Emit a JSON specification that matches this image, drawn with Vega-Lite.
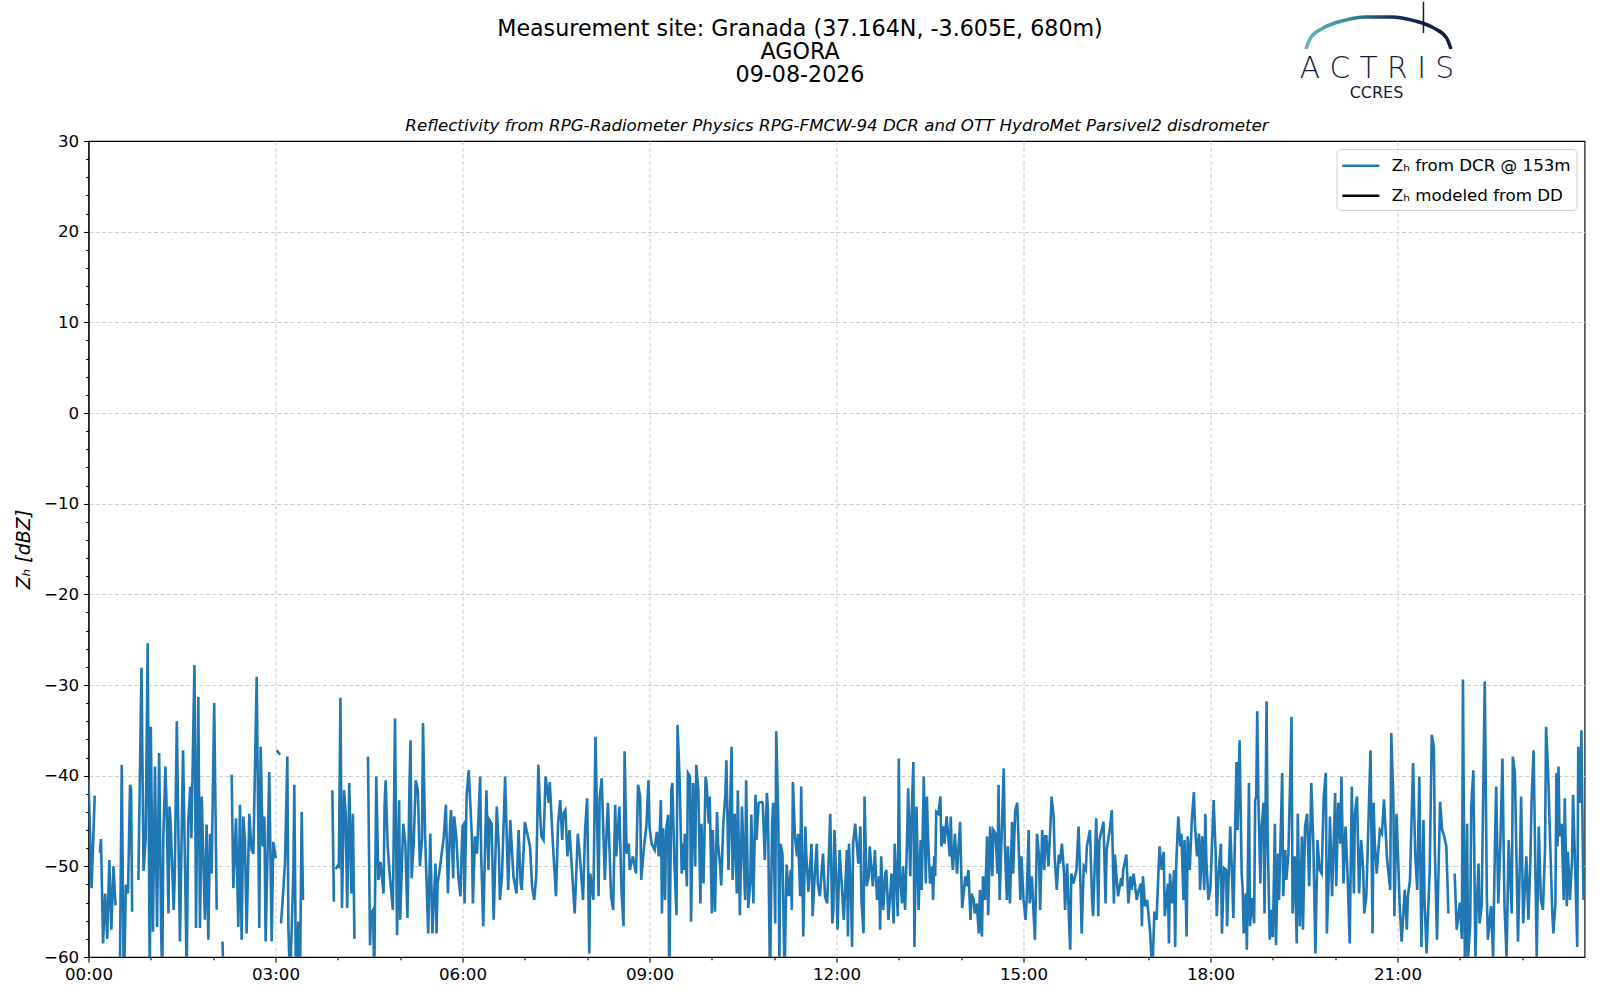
{
"$schema": "https://vega.github.io/schema/vega-lite/v6.json",
"width": 1496, "height": 816,
"autosize": {"type": "none"},
"padding": {"left": 88.5, "top": 141, "right": 15.5, "bottom": 43},
"background": "white",
"title": {"text": ["Measurement site: Granada (37.164N, -3.605E, 680m)", "AGORA", "09-08-2026"], "anchor": "middle", "frame": "group", "dx": -36.5, "font": "DejaVu Sans", "fontSize": 22.2, "fontWeight": "normal", "color": "black", "lineHeight": 23, "offset": -85},
"config": {
  "font": "DejaVu Sans",
  "view": {"stroke": "black", "strokeWidth": 1.1},
  "axis": {"labelFont": "DejaVu Sans", "labelFontSize": 16.67, "labelColor": "black", "tickColor": "black", "domainColor": "black", "tickWidth": 1.1, "domainWidth": 1.1, "titleColor": "black", "titleFont": "DejaVu Sans"}
},
"datasets": {
"dcr": [
{"t":0,"z":-40.4},{"t":3,"z":-52.4},{"t":6,"z":-42.2},{"t":7,"z":null},{"t":11,"z":-48.5},{"t":12,"z":-47.0},{"t":14,"z":-58.5},{"t":16,"z":-53.0},{"t":18,"z":-58.0},{"t":20,"z":-49.3},{"t":22,"z":-57.0},{"t":24,"z":-50.0},{"t":26,"z":-54.3},{"t":27,"z":null},{"t":30,"z":-64},{"t":32,"z":-38.8},{"t":34,"z":-64},{"t":36,"z":-52.0},{"t":38,"z":-53.0},{"t":40,"z":-41.0},{"t":41,"z":-41.5},{"t":42,"z":-55.0},{"t":43,"z":null},{"t":48,"z":-51.5},{"t":51,"z":-28.1},{"t":53,"z":-50.5},{"t":55,"z":-47.0},{"t":57,"z":-25.4},{"t":59,"z":-64},{"t":60,"z":-34.6},{"t":62,"z":-57.2},{"t":64,"z":-39.0},{"t":66,"z":-56.7},{"t":68,"z":-37.5},{"t":70,"z":-57.4},{"t":71,"z":-63},{"t":72,"z":-46.9},{"t":74,"z":-39.0},{"t":75,"z":-42.5},{"t":77,"z":-55.2},{"t":78,"z":-43.4},{"t":79,"z":-45.1},{"t":82,"z":-54.8},{"t":83,"z":-51.1},{"t":85,"z":-34.0},{"t":88,"z":-58.3},{"t":91,"z":-37.2},{"t":93,"z":-50.8},{"t":94.5,"z":-62},{"t":96,"z":-45.1},{"t":98,"z":-41.2},{"t":99,"z":-46.9},{"t":102,"z":-27.8},{"t":103.5,"z":-56.8},{"t":105.7,"z":-31.3},{"t":107.3,"z":-56.8},{"t":109,"z":-42.3},{"t":112,"z":-55.9},{"t":113.7,"z":-45.4},{"t":115.3,"z":-58.1},{"t":117,"z":-46.4},{"t":118.5,"z":-50.8},{"t":121,"z":-32.0},{"t":123.4,"z":-54.8},{"t":124,"z":null},{"t":129,"z":-58.3},{"t":130,"z":-63},{"t":131,"z":null},{"t":137.8,"z":-39.9},{"t":139.4,"z":-52.4},{"t":142,"z":-44.7},{"t":144.2,"z":-56.7},{"t":145.8,"z":-43.2},{"t":147.4,"z":-58.1},{"t":149,"z":-44.5},{"t":150.6,"z":-47.1},{"t":152.2,"z":-57.4},{"t":154.8,"z":-44.2},{"t":157,"z":-48.2},{"t":158.7,"z":-48.6},{"t":161.9,"z":-29.1},{"t":164.4,"z":-56.8},{"t":165.7,"z":-36.8},{"t":167.7,"z":-47.8},{"t":169.3,"z":-44.5},{"t":170.5,"z":-58.3},{"t":174,"z":-39.6},{"t":176.3,"z":-58.3},{"t":177.9,"z":-47.3},{"t":180.3,"z":-49.1},{"t":180.8,"z":null},{"t":181.2,"z":-37.2},{"t":184.3,"z":-37.7},{"t":184.8,"z":null},{"t":185.3,"z":-56.3},{"t":186.5,"z":-54.4},{"t":189.2,"z":-49.5},{"t":191.4,"z":-37.9},{"t":192.4,"z":-56.8},{"t":194,"z":-63},{"t":197.2,"z":-50.6},{"t":198.1,"z":-41.0},{"t":199.7,"z":-63},{"t":202,"z":-56.1},{"t":203.6,"z":-62},{"t":205.2,"z":-44.0},{"t":206.5,"z":-53.7},{"t":207,"z":null},
{"t":234.7,"z":-41.6},{"t":236.2,"z":-53.9},{"t":237,"z":null},{"t":238,"z":-50.3},{"t":240,"z":-49.9},{"t":241,"z":-50.0},{"t":242.5,"z":-31.4},{"t":244,"z":-54.6},{"t":246,"z":-41.6},{"t":247.5,"z":-44.0},{"t":249,"z":-54.6},{"t":251,"z":-40.8},{"t":253,"z":-53.0},{"t":254.5,"z":-44.2},{"t":256,"z":-58.0},{"t":257,"z":null},
{"t":269,"z":-37.9},{"t":271,"z":-58.7},{"t":272,"z":-55.2},{"t":274,"z":-54.8},{"t":275,"z":-63},{"t":277,"z":-40.1},{"t":279,"z":-51.5},{"t":281,"z":-49.5},{"t":284,"z":-53.0},{"t":285,"z":-43.4},{"t":286,"z":-40.5},{"t":288,"z":-47.8},{"t":290,"z":-51.0},{"t":293,"z":-54.8},{"t":295,"z":-33.7},{"t":297,"z":-57.6},{"t":299,"z":-42.7},{"t":300,"z":-55.9},{"t":302,"z":-48.5},{"t":303,"z":-45.3},{"t":305,"z":-47.5},{"t":307,"z":-55.7},{"t":309,"z":-40.8},{"t":310,"z":-36.1},{"t":311,"z":-51.3},{"t":313,"z":-47.5},{"t":315,"z":-40.5},{"t":317,"z":-41.6},{"t":319,"z":-50.0},{"t":321,"z":-47.0},{"t":322,"z":-34.2},{"t":324,"z":-46.7},{"t":327,"z":-57.4},{"t":329,"z":-46.4},{"t":331,"z":-57.4},{"t":334,"z":-49.7},{"t":335,"z":-57.4},{"t":336,"z":-51.9},{"t":338,"z":-50.4},{"t":342,"z":-46.7},{"t":344,"z":-43.2},{"t":346,"z":-53.0},{"t":348,"z":-45.6},{"t":349,"z":-43.8},{"t":351,"z":-51.3},{"t":352,"z":-44.5},{"t":354,"z":-46.7},{"t":356,"z":-51.1},{"t":358,"z":-53.3},{"t":360,"z":-45.6},{"t":361,"z":-45.4},{"t":362,"z":-54.1},{"t":364,"z":-42.1},{"t":366,"z":-39.4},{"t":369,"z":-46.7},{"t":370,"z":-54.1},{"t":372,"z":-46.7},{"t":374,"z":-48.6},{"t":377,"z":-40.1},{"t":378,"z":-48.9},{"t":380,"z":-56.6},{"t":383,"z":-41.6},{"t":385,"z":-50.4},{"t":386,"z":-44.9},{"t":388,"z":-45.3},{"t":390,"z":-55.9},{"t":393,"z":-43.4},{"t":395,"z":-48.2},{"t":396,"z":-53.7},{"t":398,"z":-51.1},{"t":401,"z":-40.1},{"t":402,"z":-44.2},{"t":404,"z":-52.6},{"t":406,"z":-44.9},{"t":409,"z":-51.1},{"t":412,"z":-53.0},{"t":414,"z":-46.0},{"t":416,"z":-51.9},{"t":417,"z":-52.6},{"t":419,"z":-47.8},{"t":420,"z":-45.1},{"t":423,"z":-46.7},{"t":425,"z":-47.8},{"t":427,"z":-52.2},{"t":429,"z":-53.7},{"t":431,"z":-51.1},{"t":433,"z":-38.8},{"t":435,"z":-44.9},{"t":436,"z":-46.7},{"t":438,"z":-47.1},{"t":440,"z":-40.1},{"t":443,"z":-43.0},{"t":444,"z":-40.7},{"t":447,"z":-47.5},{"t":450,"z":-53.3},{"t":452,"z":-45.3},{"t":454,"z":-42.7},{"t":456,"z":-47.1},{"t":457,"z":-44.2},{"t":459,"z":-43.8},{"t":461,"z":-48.9},{"t":463,"z":-46.0},{"t":465,"z":-49.7},{"t":468,"z":-55.2},{"t":471,"z":-46.4},{"t":473,"z":-48.9},{"t":476,"z":-53.7},{"t":478,"z":-46.0},{"t":480,"z":-42.5},{"t":482,"z":-59.6},{"t":483,"z":-50.8},{"t":486,"z":-53.7},{"t":488,"z":-35.7},{"t":491,"z":-53.3},{"t":492,"z":-42.5},{"t":494,"z":-40.3},{"t":497,"z":-51.5},{"t":499,"z":-45.3},{"t":500,"z":-43.0},{"t":503,"z":-53.3},{"t":505,"z":-54.8},{"t":507,"z":-43.2},{"t":508,"z":-48.9},{"t":511,"z":-43.4},{"t":513,"z":-52.6},{"t":515,"z":-56.6},{"t":516,"z":-37.3},{"t":518,"z":-48.6},{"t":520,"z":-47.5},{"t":521,"z":-50.4},{"t":524,"z":-48.9},{"t":527,"z":-50.8},{"t":529,"z":-41.0},{"t":531,"z":-42.3},{"t":532,"z":-51.5},{"t":535,"z":-47.5},{"t":537,"z":-45.6},{"t":539,"z":-40.5},{"t":540,"z":-45.6},{"t":542,"z":-47.5},{"t":545,"z":-48.2},{"t":547,"z":-46.2},{"t":549,"z":-48.9},{"t":551,"z":-42.7},{"t":552,"z":-55.2},{"t":553,"z":-45.8},{"t":555,"z":-53.7},{"t":556,"z":-46.0},{"t":558,"z":-44.3},{"t":559,"z":-63},
{"t":561,"z":-41.6},{"t":562,"z":-40.8},{"t":564,"z":-49.7},{"t":566,"z":-55.4},{"t":567,"z":-34.4},{"t":569,"z":-40.5},{"t":571,"z":-50.8},{"t":572,"z":-47.5},{"t":573,"z":-50.4},{"t":574,"z":-46.4},{"t":576,"z":-52.2},{"t":577,"z":-39.7},{"t":579,"z":-40.1},{"t":580,"z":-56.1},{"t":582,"z":-40.8},{"t":584,"z":-50.0},{"t":585,"z":-38.8},{"t":587,"z":-41.6},{"t":589,"z":-54.1},{"t":590,"z":-45.3},{"t":592,"z":-51.9},{"t":594,"z":-40.1},{"t":595,"z":-41.0},{"t":597,"z":-45.3},{"t":598,"z":-42.3},{"t":600,"z":-55.2},{"t":601,"z":-46.0},{"t":603,"z":-55.0},{"t":605,"z":-44.0},{"t":606,"z":-47.5},{"t":608,"z":-50.0},{"t":609,"z":-52.1},{"t":611,"z":-45.4},{"t":613,"z":-42.1},{"t":614,"z":-38.3},{"t":616,"z":-50.4},{"t":617,"z":-46.5},{"t":619,"z":-36.8},{"t":620,"z":-51.5},{"t":622,"z":-44.2},{"t":624,"z":-53.0},{"t":625,"z":-41.6},{"t":627,"z":-55.4},{"t":629,"z":-43.4},{"t":630,"z":-46.7},{"t":632,"z":-53.7},{"t":633,"z":-40.5},{"t":635,"z":-54.6},{"t":637,"z":-51.9},{"t":638,"z":-44.3},{"t":640,"z":-54.1},{"t":642,"z":-42.1},{"t":643,"z":-47.1},{"t":645,"z":-43.0},{"t":648,"z":-42.9},{"t":649,"z":-43.0},{"t":651,"z":-49.3},{"t":653,"z":-41.9},{"t":654,"z":-43.8},{"t":656,"z":-63},{"t":658,"z":-45.3},{"t":659,"z":-43.0},{"t":661,"z":-56.3},{"t":662,"z":-35.1},{"t":664,"z":-45.1},{"t":665,"z":-61},{"t":666,"z":-47.5},{"t":668,"z":-48.6},{"t":670,"z":-62},{"t":672,"z":-49.8},{"t":674,"z":-53.3},{"t":676,"z":-50.4},{"t":677,"z":-54.8},{"t":678,"z":-40.7},{"t":680,"z":-46.7},{"t":682,"z":-48.9},{"t":683,"z":-46.4},{"t":685,"z":-53.3},{"t":686,"z":-41.2},{"t":688,"z":-57.75},{"t":690,"z":-45.6},{"t":691,"z":-48.9},{"t":693,"z":-52.8},{"t":696,"z":-47.5},{"t":697,"z":-55.5},{"t":699,"z":-51.1},{"t":701,"z":-47.5},{"t":702,"z":-51.9},{"t":704,"z":-53.3},{"t":707,"z":-48.6},{"t":709,"z":-53.3},{"t":711,"z":-54.1},{"t":714,"z":-44.2},{"t":716,"z":-56.3},{"t":717,"z":-54.8},{"t":718,"z":-46.0},{"t":720,"z":-52.2},{"t":721,"z":-57.0},{"t":723,"z":-48.2},{"t":725,"z":-51.9},{"t":727,"z":-55.9},{"t":730,"z":-48.2},{"t":731,"z":-57.75},{"t":732,"z":-47.5},{"t":734,"z":-53.7},{"t":735,"z":-58.9},{"t":736,"z":-47.5},{"t":738,"z":-45.3},{"t":741,"z":-49.7},{"t":743,"z":-45.6},{"t":744,"z":-53.7},{"t":746,"z":-57.4},{"t":747,"z":-42.3},{"t":749,"z":-52.2},{"t":751,"z":-51.1},{"t":752,"z":-47.8},{"t":755,"z":-52.2},{"t":757,"z":-48.2},{"t":759,"z":-53.7},{"t":761,"z":-51.1},{"t":762,"z":-57.0},{"t":763,"z":-48.9},{"t":765,"z":-54.8},{"t":767,"z":-50.8},{"t":768,"z":-50.4},{"t":770,"z":-55.9},{"t":773,"z":-50.8},{"t":775,"z":-56.3},{"t":776,"z":-47.5},{"t":779,"z":-55.5},{"t":780,"z":-38.1},{"t":781,"z":-50.8},{"t":783,"z":-54.1},{"t":784,"z":-50.0},{"t":786,"z":-54.8},{"t":788,"z":-46.7},{"t":789,"z":-41.4},{"t":791,"z":-51.1},{"t":792,"z":-45.3},{"t":794,"z":-38.5},{"t":795,"z":-58.9},{"t":797,"z":-43.4},{"t":799,"z":-54.8},{"t":801,"z":-47.1},{"t":802,"z":-52.6},{"t":804,"z":-40.1},{"t":806,"z":-51.9},{"t":807,"z":-42.3},{"t":808,"z":-46.4},{"t":810,"z":-51.9},{"t":812,"z":-50.0},{"t":813,"z":-53.7},{"t":814,"z":-48.9},{"t":815,"z":-51.1},{"t":816,"z":-44.0},{"t":818,"z":-44.2},{"t":820,"z":-42.3},{"t":821,"z":-47.8},{"t":823,"z":-45.6},{"t":824,"z":-47.5},{"t":826,"z":-44.5},{"t":829,"z":-48.9},
{"t":830,"z":-44.5},{"t":831,"z":-48.9},{"t":832,"z":-50.4},{"t":834,"z":-46.4},{"t":836,"z":-50.8},{"t":837,"z":-48.7},{"t":839,"z":-45.1},{"t":840,"z":-50.4},{"t":841,"z":-54.6},{"t":844,"z":-51.1},{"t":845,"z":-52.2},{"t":847,"z":-50.4},{"t":849,"z":-55.9},{"t":850,"z":-53.0},{"t":852,"z":-53.7},{"t":853,"z":-55.2},{"t":855,"z":-54.1},{"t":857,"z":-57.4},{"t":858,"z":-52.6},{"t":860,"z":-57.75},{"t":861,"z":-51.1},{"t":863,"z":-53.7},{"t":865,"z":-46.7},{"t":866,"z":-55.4},{"t":868,"z":-45.6},{"t":870,"z":-51.1},{"t":871,"z":-46.0},{"t":873,"z":-46.4},{"t":875,"z":-50.8},{"t":876,"z":-41.0},{"t":877,"z":-53.7},{"t":879,"z":-46.4},{"t":881,"z":-39.2},{"t":882,"z":-47.5},{"t":884,"z":-53.7},{"t":885,"z":-47.8},{"t":887,"z":-54.1},{"t":889,"z":-45.1},{"t":890,"z":-50.8},{"t":892,"z":-43.8},{"t":894,"z":-43.0},{"t":897,"z":-53.7},{"t":898,"z":-48.9},{"t":900,"z":-53.7},{"t":902,"z":-55.9},{"t":903,"z":-53.7},{"t":905,"z":-46.0},{"t":906,"z":-54.1},{"t":908,"z":-51.1},{"t":910,"z":-55.9},{"t":911,"z":-58.1},{"t":913,"z":-46.4},{"t":915,"z":-48.9},{"t":916,"z":-54.8},{"t":918,"z":-46.0},{"t":920,"z":-50.4},{"t":921,"z":-46.7},{"t":922,"z":-46.7},{"t":924,"z":-50.0},{"t":926,"z":-45.3},{"t":927,"z":-42.3},{"t":929,"z":-44.5},{"t":930,"z":-48.9},{"t":932,"z":-52.6},{"t":934,"z":-48.7},{"t":935,"z":-49.7},{"t":937,"z":-47.5},{"t":939,"z":-50.8},{"t":940,"z":-54.8},{"t":942,"z":-49.7},{"t":944,"z":-56.6},{"t":945,"z":-59.2},{"t":946,"z":-50.8},{"t":948,"z":-51.9},{"t":951,"z":-50.4},{"t":953,"z":-45.6},{"t":955,"z":-52.6},{"t":956,"z":-57.4},{"t":958,"z":-50.0},{"t":960,"z":-50.4},{"t":961,"z":-47.8},{"t":964,"z":-46.0},{"t":966,"z":-53.7},{"t":967,"z":-55.5},{"t":970,"z":-44.7},{"t":972,"z":-55.5},{"t":973,"z":-47.1},{"t":977,"z":-45.1},{"t":979,"z":-54.1},{"t":980,"z":-48.2},{"t":983,"z":-46.0},{"t":985,"z":-43.8},{"t":987,"z":-54.1},{"t":988,"z":-48.7},{"t":990,"z":-51.9},{"t":991,"z":-53.3},{"t":994,"z":-51.3},{"t":995,"z":-52.2},{"t":996,"z":-50.4},{"t":999,"z":-48.7},{"t":1001,"z":-54.1},{"t":1003,"z":-51.1},{"t":1004,"z":-52.6},{"t":1006,"z":-50.8},{"t":1009,"z":-53.7},{"t":1011,"z":-52.6},{"t":1013,"z":-51.9},{"t":1014,"z":-56.6},{"t":1015,"z":-51.1},{"t":1017,"z":-54.4},{"t":1019,"z":-53.7},{"t":1022,"z":-57.4},{"t":1024,"z":-62},{"t":1026,"z":-55.0},{"t":1028,"z":-55.9},{"t":1030,"z":-50.4},{"t":1031,"z":-47.8},{"t":1033,"z":-50.4},{"t":1035,"z":-48.4},{"t":1036,"z":-55.5},{"t":1039,"z":-51.9},{"t":1040,"z":-58.5},{"t":1041,"z":-50.8},{"t":1043,"z":-54.1},{"t":1045,"z":-50.4},{"t":1046,"z":-58.9},{"t":1047,"z":-49.7},{"t":1049,"z":-44.5},{"t":1051,"z":-47.8},{"t":1052,"z":-46.4},{"t":1054,"z":-53.7},{"t":1055,"z":-47.1},{"t":1057,"z":-57.75},{"t":1058,"z":-46.7},{"t":1060,"z":-50.4},{"t":1062,"z":-44.9},{"t":1064,"z":-41.8},{"t":1065,"z":-45.3},{"t":1067,"z":-48.9},{"t":1069,"z":-46.4},{"t":1070,"z":-52.6},{"t":1072,"z":-46.7},{"t":1074,"z":-52.6},{"t":1075,"z":-44.2},{"t":1076,"z":-49.3},{"t":1078,"z":-53.7},{"t":1080,"z":-52.2},{"t":1083,"z":-42.7},{"t":1085,"z":-48.6},{"t":1086,"z":-55.5},{"t":1088,"z":-50.4},{"t":1090,"z":-47.5},{"t":1091,"z":-57.4},{"t":1093,"z":-50.2},{"t":1095,"z":-50.4},{"t":1096,"z":-56.6},{"t":1099,"z":-45.6},{"t":1101,"z":-51.9},{"t":1102,"z":-55.7},{"t":1105,"z":-38.5},{"t":1106,"z":-46.0},{"t":1108,"z":-36.1},
{"t":1110,"z":-50.8},{"t":1111,"z":-52.6},{"t":1112,"z":-57.4},{"t":1114,"z":-53.0},{"t":1115,"z":-59.2},{"t":1117,"z":-40.8},{"t":1118,"z":-56.6},{"t":1120,"z":-53.5},{"t":1122,"z":-56.3},{"t":1123,"z":-42.7},{"t":1124,"z":-42.3},{"t":1125,"z":-32.9},{"t":1126,"z":-42.0},{"t":1127,"z":-47.1},{"t":1128,"z":-51.9},{"t":1129,"z":-46.0},{"t":1131,"z":-43.0},{"t":1132,"z":-55.2},{"t":1134,"z":-31.8},{"t":1135,"z":-46.7},{"t":1137,"z":-58.1},{"t":1138,"z":-54.8},{"t":1139,"z":-57.4},{"t":1140,"z":-57.8},{"t":1142,"z":-45.3},{"t":1143,"z":-58.7},{"t":1145,"z":-48.6},{"t":1146,"z":-53.7},{"t":1149,"z":-39.7},{"t":1150,"z":-53.3},{"t":1152,"z":-48.2},{"t":1153,"z":-51.5},{"t":1155,"z":-48.6},{"t":1156,"z":-43.8},{"t":1158,"z":-33.5},{"t":1159,"z":-55.2},{"t":1161,"z":-48.9},{"t":1163,"z":-58.5},{"t":1164,"z":-44.2},{"t":1166,"z":-56.6},{"t":1168,"z":-46.7},{"t":1169,"z":-57.0},{"t":1171,"z":-45.6},{"t":1173,"z":-44.2},{"t":1175,"z":-52.2},{"t":1177,"z":-40.8},{"t":1179,"z":-47.5},{"t":1181,"z":-59.6},{"t":1183,"z":-47.1},{"t":1185,"z":-50.4},{"t":1187,"z":-50.8},{"t":1189,"z":-42.3},{"t":1191,"z":-39.7},{"t":1192,"z":-57.4},{"t":1194,"z":-50.4},{"t":1195,"z":-44.5},{"t":1197,"z":-53.3},{"t":1200,"z":-41.9},{"t":1201,"z":-52.2},{"t":1203,"z":-43.0},{"t":1205,"z":-47.5},{"t":1206,"z":-40.1},{"t":1208,"z":-51.9},{"t":1210,"z":-45.6},{"t":1212,"z":-51.1},{"t":1214,"z":-58.5},{"t":1216,"z":-41.2},{"t":1218,"z":-53.0},{"t":1219,"z":-44.2},{"t":1221,"z":-42.3},{"t":1223,"z":-53.0},{"t":1225,"z":-47.1},{"t":1227,"z":-50.4},{"t":1228,"z":-55.2},{"t":1230,"z":-53.3},{"t":1232,"z":-45.3},{"t":1234,"z":-37.2},{"t":1236,"z":-57.4},{"t":1237,"z":-43.0},{"t":1238,"z":-47.1},{"t":1240,"z":-50.8},{"t":1243,"z":-46.0},{"t":1245,"z":-46.4},{"t":1247,"z":-42.6},{"t":1250,"z":-49.3},{"t":1253,"z":-52.6},{"t":1254,"z":-35.3},{"t":1256,"z":-42.6},{"t":1257,"z":-55.5},{"t":1259,"z":-44.2},{"t":1261,"z":-50.4},{"t":1262,"z":-54.1},{"t":1264,"z":-58.3},{"t":1267,"z":-52.6},{"t":1269,"z":-57.0},{"t":1270,"z":-53.3},{"t":1272,"z":-51.5},{"t":1275,"z":-38.6},{"t":1277,"z":-48.5},{"t":1279,"z":-52.6},{"t":1281,"z":-40.1},{"t":1283,"z":-58.9},{"t":1285,"z":-44.9},{"t":1286,"z":-53.7},{"t":1288,"z":-59.6},{"t":1291,"z":-50.4},{"t":1293,"z":-35.5},{"t":1295,"z":-36.8},{"t":1296,"z":-48.5},{"t":1298,"z":-58.1},{"t":1301,"z":-42.9},{"t":1303,"z":-46.0},{"t":1305,"z":-46.7},{"t":1307,"z":-47.8},{"t":1309,"z":-55.2},{"t":1311,"z":null},
{"t":1315,"z":-50.8},{"t":1317,"z":-57.0},{"t":1320,"z":-54.0},{"t":1322,"z":-58.0},{"t":1323,"z":-29.4},{"t":1325,"z":-63},{"t":1327,"z":-45.3},{"t":1328,"z":-60.0},{"t":1330,"z":-56.3},{"t":1331,"z":-43.4},{"t":1333,"z":-39.4},{"t":1335,"z":-60.0},{"t":1336,"z":-55.2},{"t":1338,"z":-49.7},{"t":1339,"z":-56.3},{"t":1341,"z":-54.4},{"t":1344,"z":-29.6},{"t":1346,"z":-53.3},{"t":1347,"z":-58.1},{"t":1350,"z":-54.4},{"t":1352,"z":-60.0},{"t":1354,"z":-46.4},{"t":1355,"z":-41.2},{"t":1357,"z":-54.1},{"t":1359,"z":-47.5},{"t":1361,"z":-38.1},{"t":1363,"z":-54.4},{"t":1365,"z":-60.0},{"t":1367,"z":-47.1},{"t":1370,"z":-55.2},{"t":1371,"z":-37.9},{"t":1373,"z":-39.7},{"t":1376,"z":-58.3},{"t":1378,"z":-48.5},{"t":1379,"z":-42.3},{"t":1381,"z":-56.3},{"t":1384,"z":-48.9},{"t":1386,"z":-55.9},{"t":1388,"z":-48.9},{"t":1389,"z":-43.0},{"t":1391,"z":-37.2},{"t":1394,"z":-60.0},{"t":1396,"z":-45.6},{"t":1398,"z":-53.7},{"t":1400,"z":-54.8},{"t":1402,"z":-48.2},{"t":1403,"z":-34.6},{"t":1405,"z":-39.7},{"t":1407,"z":-47.6},{"t":1409,"z":-55.2},{"t":1410,"z":-57.4},{"t":1412,"z":-54.1},{"t":1413,"z":-39.7},{"t":1414,"z":-47.8},{"t":1415,"z":-39.0},{"t":1416,"z":-46.7},{"t":1418,"z":-45.3},{"t":1420,"z":-53.7},{"t":1421,"z":-42.5},{"t":1423,"z":-54.4},{"t":1424,"z":-48.4},{"t":1426,"z":-53.7},{"t":1428,"z":-49.3},{"t":1429,"z":-42.1},{"t":1431,"z":-50.0},{"t":1433,"z":-58.9},{"t":1434,"z":-36.8},{"t":1436,"z":-43.0},{"t":1437,"z":-35.0},{"t":1439,"z":-53.7}
]
},
"resolve": {"axis": {"x": "independent", "y": "independent"}},
"layer": [
{
  "data": {"name": "dcr"},
  "mark": {"type": "line", "strokeWidth": 2.6, "clip": true, "invalid": "break-paths-show-domains"},
  "encoding": {
    "x": {"field": "t", "type": "quantitative", "scale": {"domain": [0, 1440], "nice": false, "zero": false},
      "axis": {"orient": "bottom", "title": null, "values": [0,60,120,180,240,300,360,420,480,540,600,660,720,780,840,900,960,1020,1080,1140,1200,1260,1320,1380],
        "labelExpr": "datum.value % 180 === 0 ? ((datum.value < 600 ? '0' : '') + floor(datum.value/60) + ':00') : ''",
        "labelOverlap": false, "labelFlush": false, "labelPadding": 4.9,
        "tickSize": {"condition": {"test": "datum.value % 180 !== 0", "value": 2.8}, "value": 4.9},
        "grid": true, "gridColor": "#cccccc", "gridDash": [4, 2.5], "gridWidth": 1,
        "gridOpacity": {"condition": {"test": "datum.value % 180 === 0 && datum.value > 0", "value": 1}, "value": 0}}},
    "y": {"field": "z", "type": "quantitative", "scale": {"domain": [-60, 30], "nice": false, "zero": false},
      "axis": {"title": "Zₕ [dBZ]", "titleFontStyle": "italic", "titleFontWeight": "normal", "titleFontSize": 19, "titleX": -65.5, "titleY": 408, "titleAngle": -90, "titleAlign": "center", "titleBaseline": "middle",
        "values": [-60,-58,-56,-54,-52,-50,-48,-46,-44,-42,-40,-38,-36,-34,-32,-30,-28,-26,-24,-22,-20,-18,-16,-14,-12,-10,-8,-6,-4,-2,0,2,4,6,8,10,12,14,16,18,20,22,24,26,28,30],
        "labelExpr": "datum.value % 10 === 0 ? replace(format(datum.value, 'd'), '-', '−') : ''",
        "labelOverlap": false, "labelPadding": 4.9,
        "tickSize": {"condition": {"test": "datum.value % 10 !== 0", "value": 2.8}, "value": 4.9},
        "grid": true, "gridColor": "#cccccc", "gridDash": [4, 2.5], "gridWidth": 1,
        "gridOpacity": {"condition": {"test": "datum.value % 10 === 0 && datum.value > -60 && datum.value < 30", "value": 1}, "value": 0}}},
    "color": {"datum": "Zₕ from DCR @ 153m", "type": "nominal",
      "scale": {"domain": ["Zₕ from DCR @ 153m", "Zₕ modeled from DD"], "range": ["#1f77b4", "#000000"]},
      "legend": {"orient": "top-right", "offset": 8, "title": null, "symbolType": "M-1.1,0H2.6", "symbolSize": 400, "symbolStrokeWidth": 2.6,
        "labelFont": "DejaVu Sans", "labelFontSize": 16.67, "labelColor": "black", "labelLimit": 400, "labelOffset": 27,
        "padding": 5.3, "rowPadding": 9, "strokeColor": "#d0d0d0", "fillColor": "rgba(255,255,255,0.8)", "cornerRadius": 4}}
  }
},
{
  "data": {"values": [{"t": 1240.2, "z": 36.9, "label": "A C T R I S"}]},
  "mark": {"type": "text", "clip": false, "font": "DejaVu Sans", "fontSize": 29.7, "fontWeight": 200, "color": "#141a3c", "baseline": "alphabetic", "align": "center"},
  "encoding": {
    "x": {"field": "t", "type": "quantitative", "axis": {"orient": "top", "title": "Reflectivity from RPG-Radiometer Physics RPG-FMCW-94 DCR and OTT HydroMet Parsivel2 disdrometer", "labels": false, "ticks": false, "domain": false, "grid": false, "titleFontStyle": "italic", "titleFontWeight": "normal", "titleFontSize": 16.67, "titleX": 748, "titleY": -15.5, "titleBaseline": "middle", "titleAlign": "center", "titleColor": "black"}},
    "y": {"field": "z", "type": "quantitative", "axis": null},
    "text": {"field": "label"}
  }
},
{
  "data": {"values": [{"t": 1239.8, "z": 34.7, "label": "CCRES"}]},
  "mark": {"type": "text", "clip": false, "font": "DejaVu Sans", "fontSize": 16, "color": "#141a3c", "baseline": "alphabetic", "align": "center"},
  "encoding": {
    "x": {"field": "t", "type": "quantitative", "axis": null},
    "y": {"field": "z", "type": "quantitative", "axis": null},
    "text": {"field": "label"}
  }
},
{
  "data": {"values": [{"t":1171.9,"z":40.15},{"t":1176.2,"z":41.37},{"t":1188.3,"z":42.45},{"t":1206.8,"z":43.25},{"t":1229.6,"z":43.68},{"t":1253.8,"z":43.68},{"t":1276.6,"z":43.25},{"t":1295.1,"z":42.45},{"t":1307.2,"z":41.37},{"t":1311.5,"z":40.15}]},
  "mark": {"type": "line", "clip": false, "interpolate": "monotone", "strokeWidth": 3.5,
    "stroke": {"gradient": "linear", "x1": 0, "y1": 0, "x2": 1, "y2": 0, "stops": [{"offset": 0, "color": "#5cb8b8"}, {"offset": 0.35, "color": "#2a7f96"}, {"offset": 0.6, "color": "#1a2c55"}, {"offset": 1, "color": "#141a3c"}]}},
  "encoding": {
    "x": {"field": "t", "type": "quantitative", "axis": null},
    "y": {"field": "z", "type": "quantitative", "axis": null}
  }
},
{
  "data": {"values": [{"t": 1285, "z": 45.36, "z2": 41.9}]},
  "mark": {"type": "rule", "clip": false, "color": "#141a3c", "strokeWidth": 1.5},
  "encoding": {
    "x": {"field": "t", "type": "quantitative", "axis": null},
    "y": {"field": "z", "type": "quantitative", "axis": null},
    "y2": {"field": "z2"}
  }
}
]
}
